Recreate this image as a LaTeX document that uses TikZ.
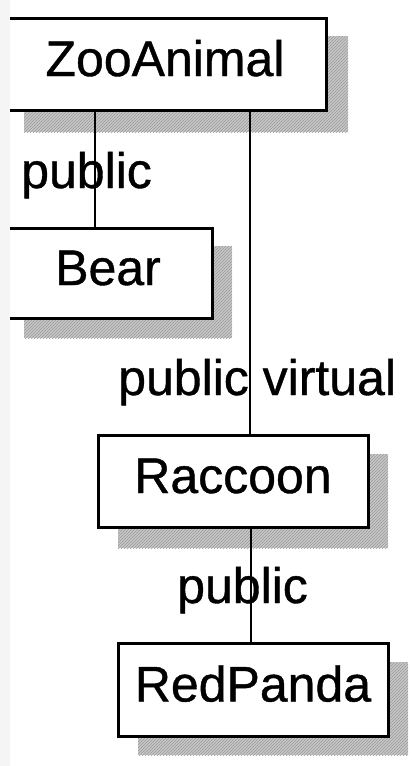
\documentclass[tikz,border=0pt]{standalone}
\usepackage{fontspec}
\setmainfont{Liberation Sans}
\newfontfamily\heavy[FakeBold=0.8]{Liberation Sans}
\usetikzlibrary{patterns}
\tikzset{
  box/.style={draw=black, line width=3pt, fill=white, inner sep=0pt,
    text height=36pt, text depth=12pt, font=\heavy\fontsize{50}{60}\selectfont},
  shadowbox/.style={fill=black!22, draw=none},
  hatch/.style={pattern=north east lines, pattern color=black!40},
  conn/.style={draw=black, line width=2pt},
  lbl/.style={anchor=base west, inner sep=0pt, font=\heavy\fontsize{50}{60}\selectfont}
}
\begin{document}
\begin{tikzpicture}[x=1pt, y=-1pt]
\useasboundingbox (0,0) rectangle (412,766);
\fill[white] (0,0) rectangle (412,766);
% shadows
\fill[shadowbox] (24,36) rectangle (348,132);
\fill[hatch] (24,36) rectangle (348,132);
\fill[shadowbox] (24,246) rectangle (232,338);
\fill[hatch] (24,246) rectangle (232,338);
\fill[shadowbox] (118,454) rectangle (388,548);
\fill[hatch] (118,454) rectangle (388,548);
\fill[shadowbox] (138,662) rectangle (408,755);
\fill[hatch] (138,662) rectangle (408,755);
% boxes
\node[box, minimum width=322pt, minimum height=92pt] (zoo) at (165,64) {ZooAnimal};
\node[box, minimum width=208pt, minimum height=90pt] (bear) at (108,273) {Bear};
\node[box, minimum width=270pt, minimum height=92pt] (rac) at (233,481) {Raccoon};
\node[box, minimum width=270pt, minimum height=93pt] (red) at (253,689.5) {RedPanda};
% connectors
\coordinate (zl) at ([xshift=92pt]zoo.south west);
\coordinate (zr) at ([xshift=247pt]zoo.south west);
\coordinate (rr) at ([xshift=154pt]rac.south west);
\draw[conn] (zl) -- (zl |- bear.north);
\draw[conn] (zr) -- (zr |- rac.north);
\draw[conn] (rr) -- (rr |- red.north);
% labels
\node[lbl] (l1) at (21,188) {public};
\node[lbl] (l2) at (118,395) {public virtual};
\node[lbl] (l3) at (177,603) {public};
% left scan strip
\fill[black!4] (0,0) rectangle (10,766);
\end{tikzpicture}
\end{document}
